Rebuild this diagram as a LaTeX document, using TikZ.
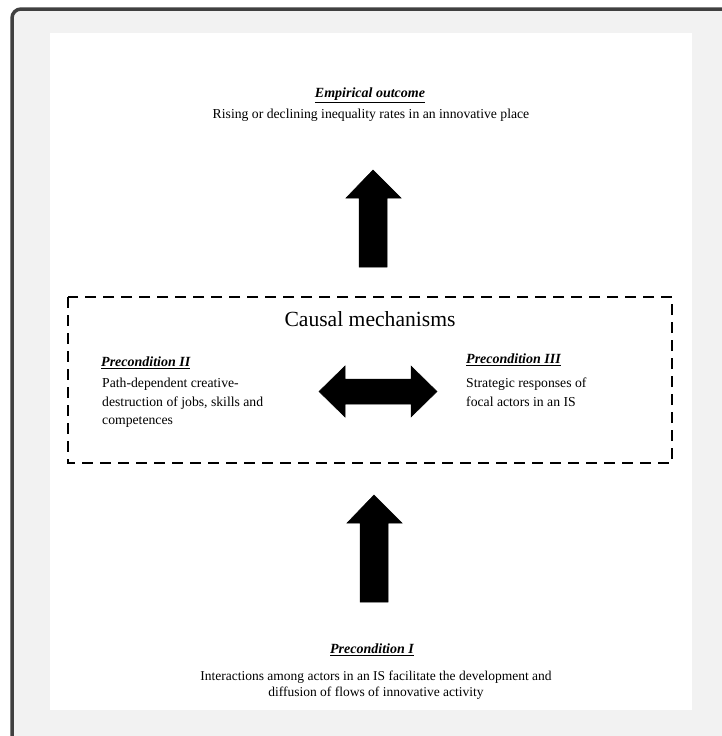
\documentclass[tikz,border=0pt]{standalone}
\usepackage{fontspec}
\setmainfont{Liberation Serif}
\begin{document}
\begin{tikzpicture}[x=1pt,y=-1pt,
  head/.style={font=\fontsize{14}{16}\selectfont\bfseries\itshape},
  body/.style={font=\fontsize{13.7}{18.5}\selectfont, inner sep=0pt},
  blk/.style={fill=black, draw=black, line width=0.5pt, line join=miter}]
\useasboundingbox (0,0) rectangle (722,736);
\clip (0,0) rectangle (722,736);
\fill[white] (0,0) rectangle (722,736);
\draw[line width=3.5pt, draw=black!75, fill=black!5, rounded corners=9pt] (12,9) rectangle (745,755);
\fill[white] (50,33) rectangle (692,710);
% top outcome
\node[head, inner sep=0pt] (eo) at (370,95) {\underline{Empirical outcome}};
\node[body] (eot) at (371,115) {Rising or declining inequality rates in an innovative place};
% up arrow top
\fill[blk] (373,170) -- (401,198) -- (387,198) -- (387,267) -- (359,267) -- (359,198) -- (346,198) -- cycle;
% dashed box
\draw[line width=2pt, dash pattern=on 11pt off 7pt] (68,297) rectangle (672,463);
\node[font=\fontsize{21.6}{24}\selectfont, inner sep=0pt] (cm) at (370,319) {Causal mechanisms};
\node[head, inner sep=0pt, anchor=west] (p2) at (101,363) {\underline{Precondition II}};
\node[body, anchor=north west, align=left] (p2t) at (102,378) {Path-dependent creative-\\destruction of jobs, skills and\\competences};
\node[head, inner sep=0pt, anchor=west] (p3) at (466,360) {\underline{Precondition III}};
\node[body, anchor=north west, align=left] (p3t) at (466,378) {Strategic responses of\\focal actors in an IS};
% double arrow
\fill[blk] (319,391.5) -- (345,366) -- (345,379) -- (411,379) -- (411,366) -- (437,391.5) -- (411,417) -- (411,404) -- (345,404) -- (345,417) -- cycle;
% up arrow bottom
\fill[blk] (374,495) -- (402,523) -- (388,523) -- (388,602) -- (360,602) -- (360,523) -- (347,523) -- cycle;
% bottom precondition
\node[head, inner sep=0pt] (p1) at (372,650) {\underline{Precondition I}};
\node[body, font=\fontsize{13.5}{16}\selectfont, align=center, anchor=north] (p1t) at (376,671) {Interactions among actors in an IS facilitate the development and\\diffusion of flows of innovative activity};
\end{tikzpicture}
\end{document}
